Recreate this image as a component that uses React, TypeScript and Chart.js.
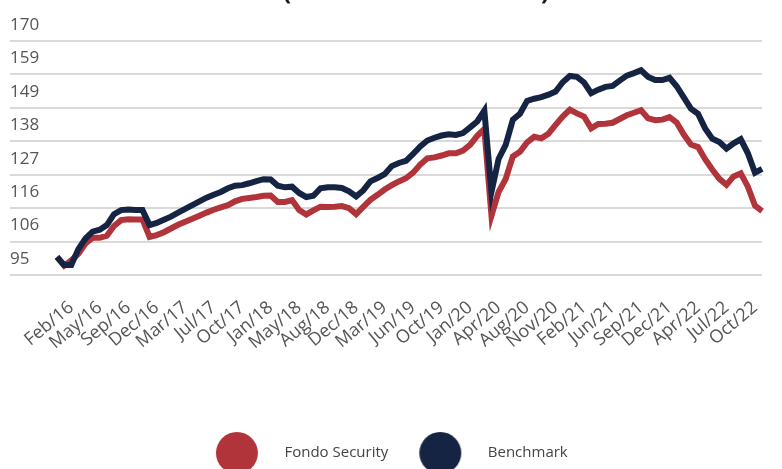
import React, { useEffect, useRef } from 'react';
import { Chart, registerables } from 'chart.js';

Chart.register(...registerables);

const TITLE_LINES = ['Rentabilidad Acumulada', '(Fondo vs Benchmark)'];

const TICK_LABELS = [
  'Feb/16', 'May/16', 'Sep/16', 'Dec/16', 'Mar/17', 'Jul/17', 'Oct/17', 'Jan/18', 'May/18',
  'Aug/18', 'Dec/18', 'Mar/19', 'Jun/19', 'Oct/19', 'Jan/20', 'Apr/20', 'Aug/20', 'Nov/20',
  'Feb/21', 'Jun/21', 'Sep/21', 'Dec/21', 'Apr/22', 'Jul/22', 'Oct/22',
];
const POINTS_PER_TICK = 4;
const FIRST_TICK_INDEX = 2;

const Y_TICK_LABELS = ['95', '106', '116', '127', '138', '149', '159', '170'];

const SERIES_NAMES = ['Fondo Security', 'Benchmark'];

const FONDO = [
  100.8, 98.0, 99.7, 101.8, 105.1, 106.9, 106.9, 107.6, 110.7, 112.6,
  112.9, 112.8, 112.8, 107.2, 107.8, 108.7, 109.9, 111.1, 112.1, 113.0,
  114.0, 115.0, 115.9, 116.7, 117.4, 118.6, 119.4, 119.7, 120.0, 120.4,
  120.5, 118.4, 118.4, 119.0, 115.8, 114.4, 115.7, 116.9, 116.8, 116.9,
  117.1, 116.4, 114.5, 116.8, 119.1, 120.7, 122.4, 123.8, 125.0, 126.0,
  127.8, 130.4, 132.4, 132.7, 133.3, 134.0, 134.0, 134.9, 136.7, 139.6,
  141.8, 114.0, 121.6, 125.8, 133.0, 134.5, 137.5, 139.3, 138.8, 140.3,
  143.1, 145.8, 148.0, 146.8, 145.8, 142.0, 143.4, 143.5, 143.8, 145.0,
  146.2, 147.0, 147.8, 145.2, 144.6, 144.8, 145.6, 143.9, 140.0, 136.8,
  136.0, 132.1, 128.8, 125.8, 123.9, 126.6, 127.6, 123.3, 117.2, 115.5,
];

const BENCHMARK = [
  100.8, 98.2, 98.2, 103.3, 106.7, 108.9, 109.5, 111.0, 114.5, 115.8,
  116.0, 115.8, 115.8, 111.0, 111.7, 112.7, 113.7, 115.0, 116.2, 117.4,
  118.6, 119.8, 120.7, 121.6, 122.8, 123.6, 123.8, 124.4, 125.1, 125.7,
  125.6, 123.6, 123.1, 123.3, 121.3, 120.0, 120.4, 122.8, 123.1, 123.1,
  122.9, 121.8, 120.2, 122.1, 125.0, 126.1, 127.3, 129.9, 130.9, 131.6,
  133.8, 136.2, 138.1, 139.0, 139.7, 140.1, 139.9, 140.5, 142.3, 144.2,
  147.7, 121.6, 132.2, 136.7, 144.8, 146.7, 150.8, 151.5, 152.0, 152.8,
  153.8, 156.8, 158.8, 158.5, 156.7, 153.3, 154.4, 155.3, 155.6, 157.3,
  158.9, 159.7, 160.6, 158.5, 157.5, 157.5, 158.2, 155.5, 151.9, 148.3,
  146.7, 142.0, 138.7, 137.6, 135.5, 137.2, 138.5, 134.0, 127.8, 129.0,
];

const RED = '#B2343B';
const NAVY = '#142442';
const FONT = '"Open Sans", sans-serif';

function makeDot(color: string): HTMLCanvasElement {
  const c = document.createElement('canvas');
  c.width = 68;
  c.height = 42;
  const g = c.getContext('2d')!;
  g.fillStyle = color;
  g.beginPath();
  g.arc(28, 21, 21, 0, Math.PI * 2);
  g.fill();
  return c;
}

export default function App() {
  const ref = useRef<HTMLCanvasElement>(null);

  useEffect(() => {
    if (!ref.current) return;
    const labels = FONDO.map((_, i) => {
      const k = (i - FIRST_TICK_INDEX) / POINTS_PER_TICK;
      return Number.isInteger(k) && k >= 0 && k < TICK_LABELS.length ? TICK_LABELS[k] : '';
    });
    const dots = [makeDot(RED), makeDot(NAVY)];

    const titlePlugin = {
      id: 'cutTitle',
      afterLayout(chart: any) {
        if (chart.legend) chart.legend.right -= 18;
      },
      afterDraw(chart: any) {
        const ctx = chart.ctx;
        ctx.save();
        ctx.font = `bold 24px ${FONT}`;
        ctx.fillStyle = '#1a1a1a';
        ctx.textAlign = 'center';
        ctx.textBaseline = 'alphabetic';
        ctx.fillText(TITLE_LINES[0], 416, -30);
        ctx.fillText(TITLE_LINES[1], 416, 0);
        ctx.restore();
      },
    };

    const chart = new Chart(ref.current, {
      type: 'line',
      data: {
        labels,
        datasets: [
          {
            label: SERIES_NAMES[0],
            data: FONDO,
            borderColor: RED,
            backgroundColor: RED,
            borderWidth: 6,
            pointRadius: 0,
            tension: 0,
            order: 1,
          },
          {
            label: SERIES_NAMES[1],
            data: BENCHMARK,
            borderColor: NAVY,
            backgroundColor: NAVY,
            borderWidth: 6,
            pointRadius: 0,
            tension: 0,
            order: 0,
          },
        ],
      },
      plugins: [titlePlugin],
      options: {
        animation: false,
        responsive: false,
        layout: { padding: { top: 41, left: 10, right: 5.35, bottom: 9.5 } },
        plugins: {
          title: { display: false },
          tooltip: { enabled: false },
          legend: {
            display: true,
            position: 'bottom',
            labels: {
              usePointStyle: true,
              pointStyleWidth: 68,
              padding: 24,
              color: '#444',
              font: { family: FONT, size: 15 },
              generateLabels: (ch: any) =>
                ch.data.datasets.map((ds: any, i: number) => ({
                  text: ds.label,
                  fillStyle: ds.borderColor,
                  strokeStyle: ds.borderColor,
                  lineWidth: 0,
                  pointStyle: dots[i],
                  hidden: !ch.isDatasetVisible(i),
                  datasetIndex: i,
                  fontColor: '#444',
                })),
            },
          },
        },
        scales: {
          x: {
            type: 'category',
            offset: false,
            grid: { display: false },
            border: { display: false },
            afterFit: (s: any) => {
              s.height = 146.5;
            },
            ticks: {
              autoSkip: false,
              minRotation: 40,
              maxRotation: 40,
              padding: 14,
              color: '#555',
              font: { family: FONT, size: 18 },
            },
          },
          y: {
            min: 95,
            max: 170,
            border: { display: false },
            afterFit: (s: any) => {
              s.width = 47;
            },
            grid: { color: '#d9d9d9', lineWidth: 2, drawTicks: true, tickLength: 47 },
            ticks: {
              count: 8,
              crossAlign: 'far',
              labelOffset: -16,
              padding: 0,
              color: '#555',
              font: { family: FONT, size: 17 },
              callback: (_v: any, i: number) => Y_TICK_LABELS[i],
            },
          },
        },
      },
    } as any);
    return () => chart.destroy();
  }, []);

  return (
    <div style={{ position: 'fixed', left: 0, top: 0, width: 790, height: 480 }}>
      <canvas ref={ref} width={790} height={480} style={{ display: 'block' }} />
    </div>
  );
}
